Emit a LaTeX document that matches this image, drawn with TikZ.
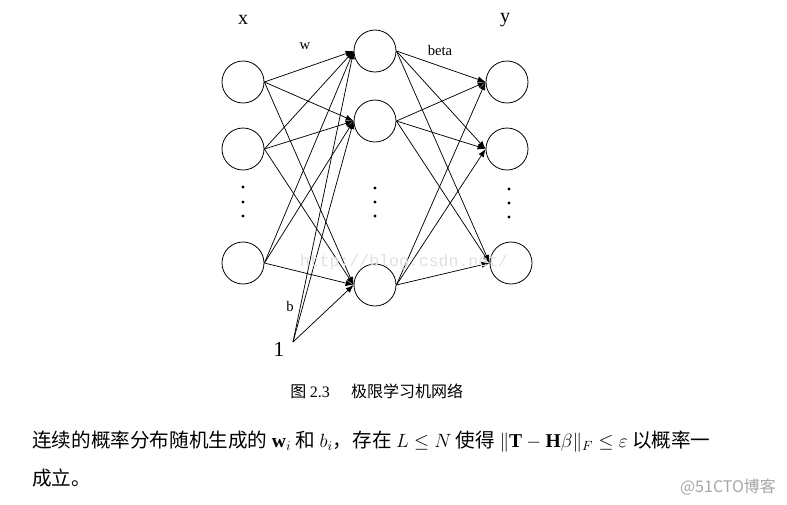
\documentclass[tikz,border=0pt]{standalone}
\usepackage{amsmath}
\usepackage{xcolor}
\usepackage{fontspec}
\setmainfont{Liberation Serif}
\newfontfamily\cjk{Noto Sans CJK SC}
\newfontfamily\wmfont{Liberation Mono}
\usepackage{tikz}
\usetikzlibrary{arrows.meta}

\tikzset{neuron/.style={draw,circle,minimum size=31.5pt,inner sep=0pt,line width=0.6pt},
	link/.style={-{Latex[length=6pt,width=4.5pt]},line width=0.55pt}}

\begin{document}
\begin{tikzpicture}[x=0.75pt,y=-0.75pt]
	\useasboundingbox (0,0) rectangle (787,504);
	% input layer
	\node[neuron] (x1) at (243,82) {};
	\node[neuron] (x2) at (243,149) {};
	\node[neuron] (x3) at (243,263) {};
	% hidden layer
	\node[neuron] (h1) at (375,51) {};
	\node[neuron] (h2) at (375,121) {};
	\node[neuron] (h3) at (375,285) {};
	% output layer
	\node[neuron] (y1) at (507,82) {};
	\node[neuron] (y2) at (507,149) {};
	\node[neuron] (y3) at (511,263) {};
	\coordinate (one) at (293,342);
	\fill (243,187) circle (1.2pt) (243,202) circle (1.2pt) (243,216) circle (1.2pt);
	\fill (375,188) circle (1.2pt) (375,202) circle (1.2pt) (375,216) circle (1.2pt);
	\fill (509,189) circle (1.2pt) (509,203) circle (1.2pt) (509,217) circle (1.2pt);
	\node[font=\fontsize{15}{15}\selectfont] (xlab) at (243,20) {x};
	\node[font=\fontsize{15}{15}\selectfont] (ylab) at (505,20) {y};
	\node[font=\fontsize{11}{11}\selectfont] (wlab) at (305,46) {w};
	\node[font=\fontsize{11}{11}\selectfont] (betalab) at (440,50) {beta};
	\node[font=\fontsize{11}{11}\selectfont] (blab) at (290,306) {b};
	\node[font=\fontsize{16}{16}\selectfont] (onelab) at (279,349) {1};
	% input -> hidden
	\draw[link] (x1.east) -- (h1.west);
	\draw[link] (x1.east) -- (h2.west);
	\draw[link] (x1.east) -- (h3.west);
	\draw[link] (x2.east) -- (h1.west);
	\draw[link] (x2.east) -- (h2.west);
	\draw[link] (x2.east) -- (h3.west);
	\draw[link] (x3.east) -- (h1.west);
	\draw[link] (x3.east) -- (h2.west);
	\draw[link] (x3.east) -- (h3.west);
	% bias
	\draw[link] (one) -- (h1.west);
	\draw[link] (one) -- (h2.west);
	\draw[link] (one) -- (h3.west);
	% hidden -> output
	\draw[link] (h1.east) -- (y1.west);
	\draw[link] (h1.east) -- (y2.west);
	\draw[link] (h1.east) -- (y3.west);
	\draw[link] (h2.east) -- (y1.west);
	\draw[link] (h2.east) -- (y2.west);
	\draw[link] (h2.east) -- (y3.west);
	\draw[link] (h3.east) -- (y1.west);
	\draw[link] (h3.east) -- (y2.west);
	\draw[link] (h3.east) -- (y3.west);
	% watermarks
	\node[text=black!12,font=\wmfont\fontsize{12.4}{12.4}\selectfont] (csdn) at (404,262) {http://blog.csdn.net/};
	\node[text=black!35,font=\cjk\fontsize{12}{12}\selectfont] (cto) at (728,487) {@51CTO博客};
	% caption and text
	\node[anchor=west,inner sep=0pt,font=\cjk\fontsize{12}{12}\selectfont] (caption) at (290,391) {图 {\rmfamily 2.3}\hspace{16pt}极限学习机网络};
	\node[anchor=west,inner sep=0pt,font=\cjk\fontsize{14.7}{14.7}\selectfont] (line1) at (32,442)
		{连续的概率分布随机生成的 $\mathbf{w}_i$ 和 $b_i$，存在 $L\le N$ 使得 $\|\mathbf{T}-\mathbf{H}\beta\|_F\le\varepsilon$ 以概率一};
	\node[anchor=west,inner sep=0pt,font=\cjk\fontsize{14.7}{14.7}\selectfont] (line2) at (32,478) {成立。};
\end{tikzpicture}
\end{document}
